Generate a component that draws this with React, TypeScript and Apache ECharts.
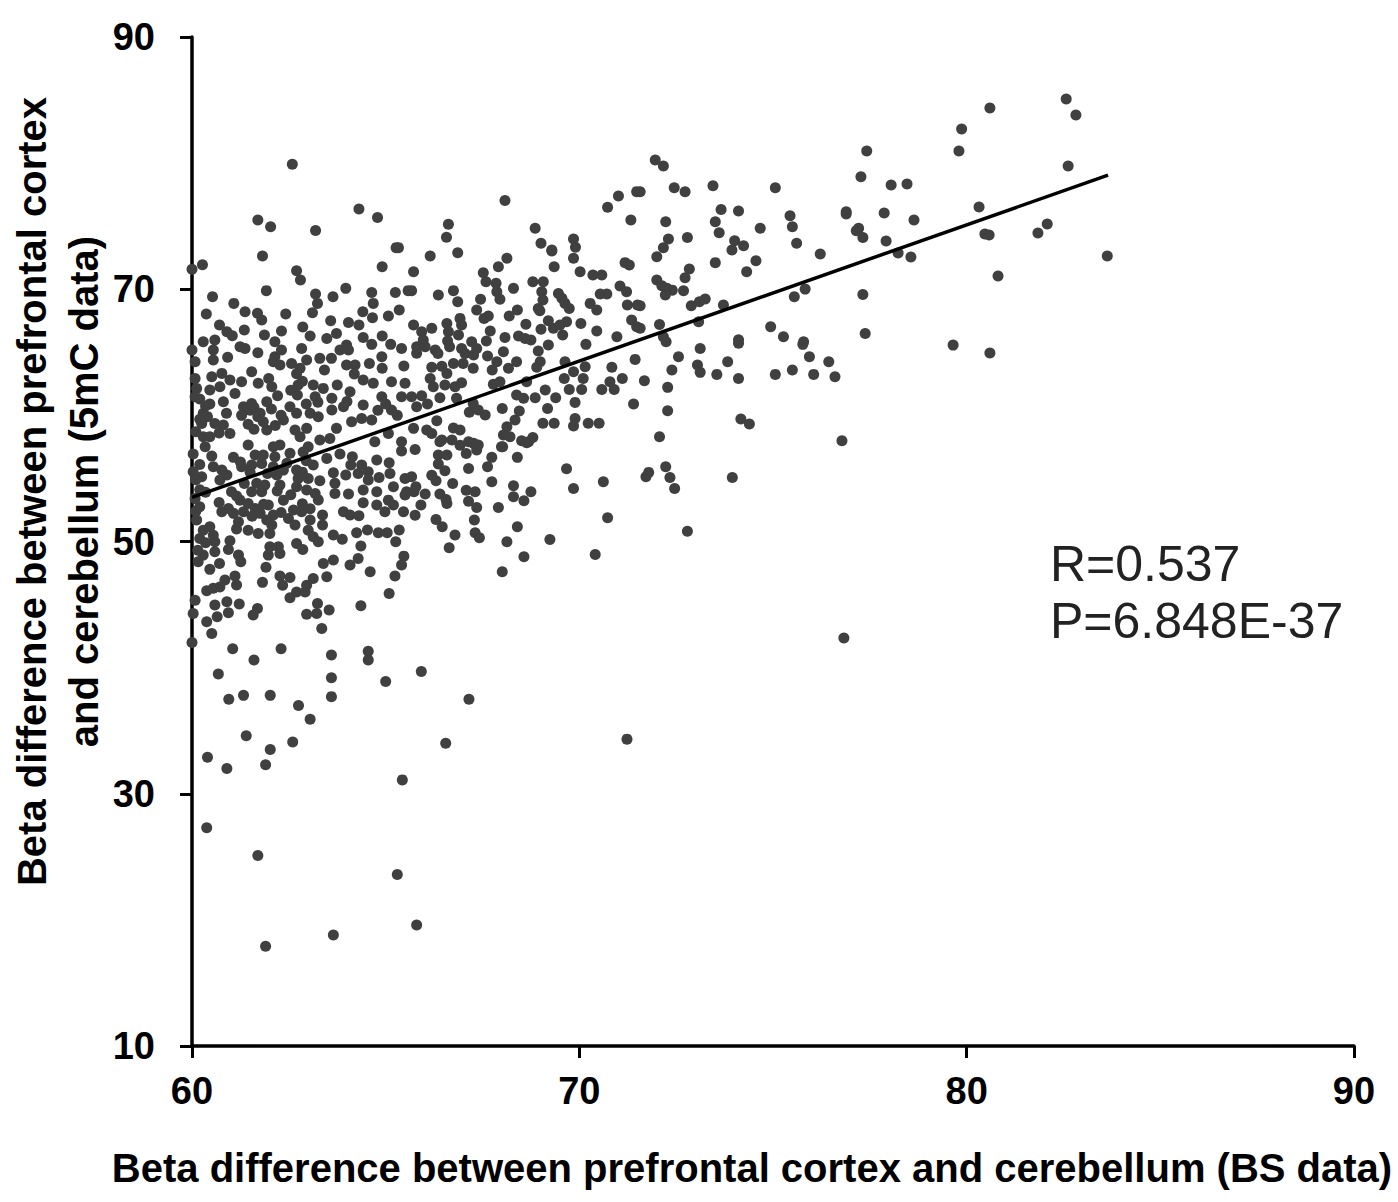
import React, { useEffect, useRef } from "react";
import * as echarts from "echarts";

const xTicks = [60, 70, 80, 90];
const yTicks = [10, 30, 50, 70, 90];
const xTitle = "Beta difference between prefrontal cortex and cerebellum (BS data)";
const yTitle = "Beta difference between prefrontal cortex\nand cerebellum (5mC data)";
const statLines = ["R=0.537", "P=6.848E-37"];
const fitLine = [[60, 53.5], [83.65, 79.05]];

const farRightPoints: number[][] = [
[82.57,85.08],[82.82,83.81],[80.6,84.37],[79.87,82.7],[79.8,80.96],[82.62,79.77],[80.32,76.52],[80.47,74.38],[80.58,74.3],[82.08,75.17],
[81.84,74.46],[83.63,72.63],[80.81,71.05],[79.65,65.57],[80.6,64.94],[76.83,42.34],[78.46,78.34],[78.05,78.26],[77.87,76.04],[77.92,73.82],
[78.23,72.87],[78.56,72.55],[78.64,75.49],[71.23,34.33],
];

const upperRightPoints: number[][] = [
[71.96,80.24],[72.17,79.77],[72.45,78.05],[72.73,77.73],[73.45,78.21],[75.06,78.05],[77.42,80.96],[77.27,78.92],[71.57,77.73],[73.66,76.33],
[74.11,76.2],[75.44,75.83],[75.5,74.96],[76.89,76.15],[76.89,75.96],[72.23,75.35],[73.51,75.35],[73.61,74.48],[74.67,74.83],[77.21,74.83],
[77.15,74.64],[77.32,74.11],[72.3,73.98],[72.17,73.29],[72.0,72.58],[72.79,74.11],[74.01,73.85],[74.24,73.45],[73.94,73.11],[75.61,73.64],
[76.22,72.79],[73.51,72.11],[74.56,72.26],[74.32,71.39],[72.84,71.6],[72.73,70.91],[72.0,70.73],[72.13,70.28],[72.26,70.07],[72.4,69.93],
[72.22,69.54],[72.69,69.88],[75.83,70.01],[75.55,69.41],[77.32,69.59],[72.89,68.69],[73.1,69.01],[73.25,69.22],[73.72,68.75],[71.57,68.69],
[72.07,67.21],[73.08,67.42],[74.94,67.03],[75.27,66.23],[77.38,66.5],[71.57,66.9],[72.17,66.23],[74.11,66.0],[75.79,65.84],
];

const lowerRightPoints: number[][] = [
[72.24,65.84],[73.12,65.31],[74.11,65.71],[75.77,65.63],[72.56,64.65],[75.94,64.65],[76.44,64.25],[72.39,63.59],[73.05,63.99],[73.12,63.41],
[73.83,64.25],[73.55,63.25],[74.11,62.93],[75.06,63.25],[75.5,63.59],[76.05,63.25],[76.6,63.06],[71.68,62.75],[72.28,62.22],[72.28,60.37],
[74.17,59.71],[74.39,59.31],[76.78,57.99],[72.07,58.3],[72.23,55.93],[71.79,55.48],[71.72,55.13],[72.34,55.08],[72.46,54.21],[73.95,55.08],
[72.79,50.82],
];

const upperMiddlePoints: number[][] = [
[66.15,72.63],[66.86,72.9],[65.72,71.39],[68.13,72.45],[67.91,71.79],[69.35,71.79],[69.85,72.45],[70.02,71.39],[69.29,73.03],[70.35,71.13],
[70.58,71.13],[71.18,72.11],[71.29,71.92],[67.52,71.31],[67.59,70.6],[67.85,70.47],[67.87,69.81],[67.95,69.2],[68.3,70.07],[68.8,70.6],
[69.07,70.6],[69.03,69.81],[69.06,69.14],[68.94,68.48],[68.98,68.3],[65.67,69.89],[66.36,69.54],[66.75,69.89],[66.86,69.01],[67.45,69.2],
[67.35,68.35],[67.54,67.69],[67.65,67.88],[68.19,67.88],[68.4,68.35],[68.62,67.22],[67.7,66.69],[68.08,66.18],[68.43,66.29],[68.6,66.1],
[68.75,65.97],[69.46,69.67],[69.55,69.28],[69.63,68.88],[69.74,68.48],[70.28,68.88],[70.45,68.35],[70.54,69.62],[70.71,69.62],[71.05,70.26],
[71.22,69.81],[71.24,68.75],[71.5,68.75],[71.35,67.56],[71.48,67.03],[69.2,67.51],[69.33,66.9],[69.67,67.43],[69.5,67.16],[70.04,67.29],
[69.57,66.37],[69.01,66.82],[70.45,66.69],[70.97,66.24],[70.17,65.63],[69.2,65.58],[68.94,65.1],[65.72,67.16],[65.93,66.63],[66.19,66.9],
[66.58,67.29],[66.92,67.69],[66.96,67.16],[66.62,66.63],[66.88,66.37],[65.97,65.97],[65.8,65.44],[66.02,65.44],[66.28,65.18],[65.8,64.92],
[66.65,65.44],[66.96,65.31],[67.22,65.84],[67.35,65.31],[67.27,64.78],[67.63,64.7],[68.04,65.05],[68.38,64.25],[67.87,64.25],[68.17,63.73],
[68.99,64.25],[68.9,63.81],[66.19,63.81],[66.75,64.12],[67.0,64.12],[67.26,63.73],[66.58,63.33],[66.15,62.93],[66.23,62.27],[66.53,62.4],
[66.79,62.27],[66.96,62.59],[67.78,62.46],[67.95,62.67],[68.64,62.67],[69.63,64.25],[69.85,63.46],[70.15,63.86],[70.1,62.93],[69.61,62.93],
[70.84,63.81],[71.44,64.44],[71.11,62.93],[70.79,62.67],[70.58,62.06],[70.9,62.06],[70.06,62.06],[69.74,62.06],[69.12,62.01],[69.39,61.4],
[68.86,61.4],[68.38,61.61],[68.56,61.35],[69.89,61.03],[71.4,60.9],[69.18,60.55],[68.45,60.34],[68.34,59.63],[68.01,60.55],[69.06,59.37],
[69.35,59.37],[69.89,59.76],[69.85,59.15],[70.23,59.37],[70.51,59.37],[65.93,61.56],[66.4,61.4],[65.67,61.48],[65.8,60.69],[66.08,60.9],
[66.83,61.35],[67.26,60.95],[67.16,60.24],[67.39,60.42],[67.57,60.03],[66.32,59.58],[65.72,58.97],[66.06,58.84],[66.75,59.0],[66.92,58.84],
[66.19,58.57],[66.45,58.04],[66.71,58.04],[67.14,57.91],[67.39,57.65],[68.13,59.1],[68.04,58.44],[68.21,58.31],[67.99,57.51],[68.51,57.99],
[68.69,57.91],[68.8,58.25],[66.6,65.9],[66.35,64.9],[67.6,65.9],[67.05,64.9],[66.45,63.9],[67.75,63.6],
];

const lowerMiddlePoints: number[][] = [
[65.76,57.3],[66.4,57.9],[66.92,57.64],[67.27,57.78],[67.35,57.25],[67.08,56.98],[66.36,56.85],[66.58,56.85],[66.36,56.14],[66.53,55.61],
[67.14,55.79],[67.74,56.67],[67.63,55.93],[68.4,56.67],[68.02,57.51],[68.64,57.83],[66.19,55.26],[66.3,54.81],[65.67,55.13],[65.78,54.34],
[65.73,53.94],[66.02,53.76],[66.73,54.6],[67.08,54.07],[67.31,53.94],[67.74,54.74],[68.3,54.42],[68.3,53.55],[68.75,53.94],[68.57,53.23],
[66.4,53.76],[66.56,53.33],[66.58,53.02],[67.14,53.2],[67.35,52.7],[67.91,52.7],[65.91,52.89],[65.76,52.09],[66.3,51.75],[66.46,51.17],
[67.29,51.7],[67.31,50.69],[67.42,50.3],[66.79,50.51],[66.64,49.5],[68.4,51.17],[68.13,49.98],[68.57,48.79],[68.01,47.6],[69.24,50.16],
[69.67,55.77],[69.85,54.21],[70.62,54.74],[70.73,51.88],[70.41,48.97],
];

const upperLeftPoints: number[][] = [
[61.7,75.49],[62.03,74.96],[63.19,74.65],[64.31,76.37],[64.79,75.68],[68.08,77.03],[70.73,76.5],[71.01,77.4],[71.48,77.74],[71.33,75.49],
[68.86,74.83],[69.01,73.64],[69.29,73.11],[69.85,73.99],[69.9,73.33],[66.62,75.15],[66.57,74.12],[65.33,73.3],[65.27,73.3],[62.59,79.91],
[61.82,72.63],[60.27,71.95],[60.0,71.58],[62.7,71.47],[62.8,70.73],[64.91,71.79],[61.92,69.89],[60.53,69.41],[61.08,68.88],[61.37,68.22],
[60.37,68.03],[61.69,68.09],[61.8,67.56],[62.42,68.03],[63.19,69.62],[63.24,68.88],[63.11,68.14],[63.64,69.41],[63.97,70.07],[64.64,69.75],
[64.68,68.88],[65.25,69.75],[65.58,69.89],[64.41,68.22],[64.66,67.74],[65.07,67.88],[65.35,68.35],[63.58,67.51],[64.04,67.37],[64.31,67.16],
[60.71,67.16],[60.9,66.63],[61.04,66.32],[61.35,66.77],[61.87,66.37],[62.31,66.69],[62.86,67.0],[63.05,66.29],[62.14,65.84],
];

const midLeftPoints: number[][] = [
[60.0,65.18],[60.08,64.25],[60.29,65.84],[60.59,65.97],[60.55,65.18],[60.55,64.39],[60.92,64.6],[61.24,65.44],[61.37,65.31],[61.7,64.97],
[62.14,64.65],[62.31,65.18],[62.1,64.25],[62.27,63.99],[62.57,64.12],[62.83,65.31],[62.96,64.39],[62.79,63.73],[63.3,64.52],[63.6,64.52],
[63.42,63.59],[63.99,65.58],[63.82,65.18],[64.04,65.18],[63.48,66.1],[63.73,66.5],[64.42,66.18],[64.64,65.63],[64.91,66.29],[65.13,65.63],
[65.41,65.31],[64.9,64.65],[64.91,63.73],[64.58,64.12],[63.99,63.99],[64.21,63.99],[64.19,63.28],[65.47,63.91],[60.51,63.06],[60.77,63.33],
[61.54,63.46],[60.98,62.8],[61.28,62.67],[61.71,62.54],[61.98,62.93],[62.06,62.27],[60.46,62.01],[60.72,62.27],[61.11,61.74],[60.08,62.93],
[60.12,62.14],[60.08,61.48],[62.74,62.4],[62.72,61.61],[62.21,61.56],[63.13,62.4],[63.39,62.14],[63.18,61.48],[63.75,62.4],[63.61,61.35],
[63.61,60.42],[64.08,61.88],[63.91,60.69],[64.42,62.8],[64.68,62.54],[65.15,62.67],[65.5,62.54],[64.42,60.82],[64.9,61.48],[65.15,60.42],
[65.41,61.48],[60.46,60.9],[60.81,61.08],[60.89,60.16],[60.29,60.16],[61.33,60.69],[61.54,60.95],[61.93,61.08],[61.28,60.0],[61.76,60.16],
[62.53,60.69],[62.7,60.16],[62.36,59.63],[63.05,60.16],[63.26,59.89],[60.25,59.36],[60.59,59.36],[60.81,59.23],[60.98,58.57],[61.84,59.5],
[61.93,58.84],[62.66,58.84],[62.96,58.97],[62.79,58.31],[63.73,58.97],[64.12,59.5],[64.38,59.76],[64.64,59.63],[63.3,58.04],[63.56,58.17],
[64.72,57.91],[65.07,58.57],[65.41,57.91],[60.29,58.31],[60.46,58.31],[60.34,57.51],[61.45,57.65],[62.1,57.51],[62.27,57.65],[63.0,57.51],
[61.5,60.4],[61.6,60.65],[61.45,59.3],[61.6,58.9],[61.7,59.9],[60.2,59.7],[60.1,58.7],[60.4,59.9],[62.05,60.5],[64.0,61.1],
[63.25,61.05],[65.0,60.9],[64.8,60.4],[65.3,60.0],[62.3,60.0],[62.15,59.2],[60.7,58.6],[62.55,62.0],[62.85,62.7],[62.7,63.3],
[62.95,60.9],[60.35,60.75],[60.2,61.3],
];

const lowerLeftPoints: number[][] = [
[60.03,56.93],[60.51,56.77],[61.07,56.67],[61.63,56.85],[61.84,56.85],[62.14,56.72],[62.53,56.99],[62.87,57.1],[63.82,56.93],[64.14,56.72],
[64.1,56.06],[64.38,56.06],[64.77,56.46],[65.09,56.25],[65.41,57.17],[60.03,55.53],[60.25,55.14],[60.55,55.93],[60.77,55.66],[60.9,55.27],
[60.72,54.87],[61.28,55.93],[61.54,56.06],[61.8,56.19],[62.1,55.93],[62.36,55.66],[62.7,55.66],[63.13,56.06],[63.48,56.59],[63.65,55.45],
[63.97,55.27],[64.29,55.4],[64.55,55.53],[64.55,54.87],[64.83,55.08],[65.11,55.4],[65.2,54.34],[65.5,55.0],[65.54,53.95],[65.46,52.36],
[62.19,55.27],[62.74,55.0],[63.0,55.0],[63.3,54.82],[63.18,53.81],[63.26,53.3],[62.96,54.08],[62.7,54.34],[62.36,53.28],[62.27,54.47],
[61.67,54.61],[61.88,54.47],[61.54,53.95],[61.8,53.95],[61.02,53.95],[61.24,53.28],[61.45,53.02],[61.97,52.89],[60.77,52.36],[60.94,52.62],
[61.07,52.23],[61.33,52.36],[61.2,51.57],[61.63,52.62],[61.76,52.23],[62.1,52.1],[61.93,51.7],[62.06,51.3],[61.45,50.9],[61.71,50.64],
[62.01,50.64],[62.49,51.83],[62.62,52.49],[62.83,52.36],[62.66,51.3],[63.05,51.7],[63.0,50.9],[63.13,50.38],[63.26,49.98],[63.37,52.1],
[63.37,51.3],[63.65,50.51],[63.88,50.17],[63.91,52.36],[64.08,52.1],[64.31,52.04],[64.25,50.69],[64.53,50.91],[64.81,50.69],[65.04,50.69],
[65.35,50.91],[65.26,49.98],[64.36,49.64],[62.7,49.85],[62.86,49.37],[62.01,49.58],[62.23,49.58],[61.97,48.92],[62.27,49.05],[60.98,50.06],
[60.59,49.98],[60.94,49.37],[60.59,49.19],[61.2,48.92],[61.26,48.4],[60.29,48.92],[60.16,48.4],[60.71,48.26],[60.46,47.79],[61.91,47.95],
[61.11,47.26],[60.85,46.94],[61.15,46.55],[60.72,46.4],[60.55,46.3],[60.38,46.1],[61.82,46.76],[62.27,47.26],[62.53,47.15],[62.34,46.54],
[63.39,48.26],[63.65,48.53],[64.08,48.13],[64.29,48.66],[64.6,47.6],[63.13,47.07],[63.48,47.2],[62.96,46.54],[65.24,47.26],[65.41,48.13],
[65.47,48.84],[65.09,45.88],[62.53,45.54],[62.7,46.0],[62.92,46.0],[61.22,45.04],[60.9,45.22],[60.59,44.96],[60.94,44.35],[60.65,44.03],
[61.69,44.69],[61.58,44.17],[63.24,45.09],[63.54,44.56],[62.96,44.24],[63.22,44.3],[64.36,44.9],[60.38,43.64],[60.51,42.71],[63.35,43.11],
[60.08,45.35],[60.03,44.3],[60.2,52.76],[60.12,51.7],[60.29,50.9],[60.46,51.17],[60.2,50.24],[63.69,54.61],[63.69,53.81],[64.04,53.76],
[64.42,54.08],[64.77,53.95],[65.07,53.28],[64.42,53.07],[64.77,52.89],[64.98,52.36],[65.2,52.89],[65.5,53.68],[60.08,53.4],[60.2,54.1],
[60.1,54.9],[60.35,53.9],[60.1,52.4],[60.2,56.1],[61.25,56.3],[61.5,55.5],[61.95,55.4],[62.45,56.2],[62.95,56.4],[62.2,54.0],
[61.35,54.6],[61.55,52.0],[61.85,52.95],[62.3,52.3],[61.15,53.6],[62.55,53.7],[62.85,53.0],[63.05,52.6],[62.85,55.5],[61.15,51.0],
[60.55,50.5],[60.7,53.1],[60.35,49.9],[60.15,49.3],
];

const lowOutlierPoints: number[][] = [
[64.55,41.3],[64.55,40.6],[65.0,38.9],[65.92,39.7],[66.55,34.0],[67.15,37.5],[65.43,31.1],[65.3,23.6],[65.8,19.6],[63.65,18.8],
[61.9,17.9],[61.7,25.1],[60.38,27.3],[60.9,32.0],[60.4,32.9],[61.9,32.3],[62.02,33.5],[61.4,34.6],[62.6,34.1],[63.05,35.9],
[62.75,37.0],[62.02,37.8],[61.33,37.8],[60.95,37.5],[60.68,39.5],[61.05,41.5],[60.0,42.0],[61.6,40.6],[62.3,41.5],[63.6,41.0],
[63.6,39.2],[63.6,37.7],
];

const allPoints = [
  ...farRightPoints, ...upperRightPoints, ...lowerRightPoints, ...upperMiddlePoints, ...lowerMiddlePoints,
  ...upperLeftPoints, ...midLeftPoints, ...lowerLeftPoints, ...lowOutlierPoints,
];

export default function App() {
  const ref = useRef<HTMLDivElement>(null);
  useEffect(() => {
    document.body.style.margin = "0";
    const chart = echarts.init(ref.current!, null, { renderer: "svg" });
    const axisLine = { lineStyle: { color: "#000", width: 3.5 } };
    const tick = { show: true, inside: false, length: 12, lineStyle: { color: "#000", width: 3 } };
    const labelStyle = { color: "#000", fontFamily: "Liberation Sans", fontWeight: "bold", fontSize: 38 };
    const nameStyle = { color: "#000", fontFamily: "Liberation Sans", fontWeight: "bold", fontSize: 40 };
    chart.setOption({
      animation: false,
      backgroundColor: "#fff",
      grid: { left: 192, right: 44, top: 37, bottom: 156, outerBoundsMode: "none", containLabel: false },
      xAxis: {
        type: "value",
        min: 60,
        max: 90,
        interval: 10,
        splitLine: { show: false },
        axisLine: { show: true, ...axisLine },
        axisTick: tick,
        axisLabel: { ...labelStyle, margin: 26, customValues: xTicks },
        name: xTitle,
        nameLocation: "middle",
        nameGap: 102,
        nameMoveOverlap: false,
        nameTextStyle: { ...nameStyle, padding: [0, 42, 0, 0] },
      },
      yAxis: {
        type: "value",
        min: 10,
        max: 90,
        splitLine: { show: false },
        axisLine: { show: true, ...axisLine },
        axisTick: { ...tick, customValues: yTicks },
        axisLabel: { ...labelStyle, margin: 37, customValues: yTicks },
        name: yTitle,
        nameLocation: "middle",
        nameGap: 82,
        nameMoveOverlap: false,
        nameTextStyle: { ...nameStyle, lineHeight: 52, align: "center", padding: [0, 0, 0, 100] },
      },
      graphic: [
        { type: "text", left: 1050, top: 539, style: { text: statLines[0], fill: "#222", font: "50px 'Liberation Sans'" } },
        { type: "text", left: 1050, top: 596, style: { text: statLines[1], fill: "#222", font: "50px 'Liberation Sans'" } },
      ],
      series: [
        {
          type: "scatter",
          data: allPoints,
          symbol: "circle",
          symbolSize: 11,
          itemStyle: { color: "#404040", opacity: 1 },
          clip: false,
          z: 2,
        },
        {
          type: "line",
          data: fitLine,
          symbol: "none",
          lineStyle: { color: "#000", width: 3.5 },
          z: 3,
        },
      ],
    });
    return () => chart.dispose();
  }, []);
  return <div ref={ref} style={{ width: 1398, height: 1202 }} />;
}
